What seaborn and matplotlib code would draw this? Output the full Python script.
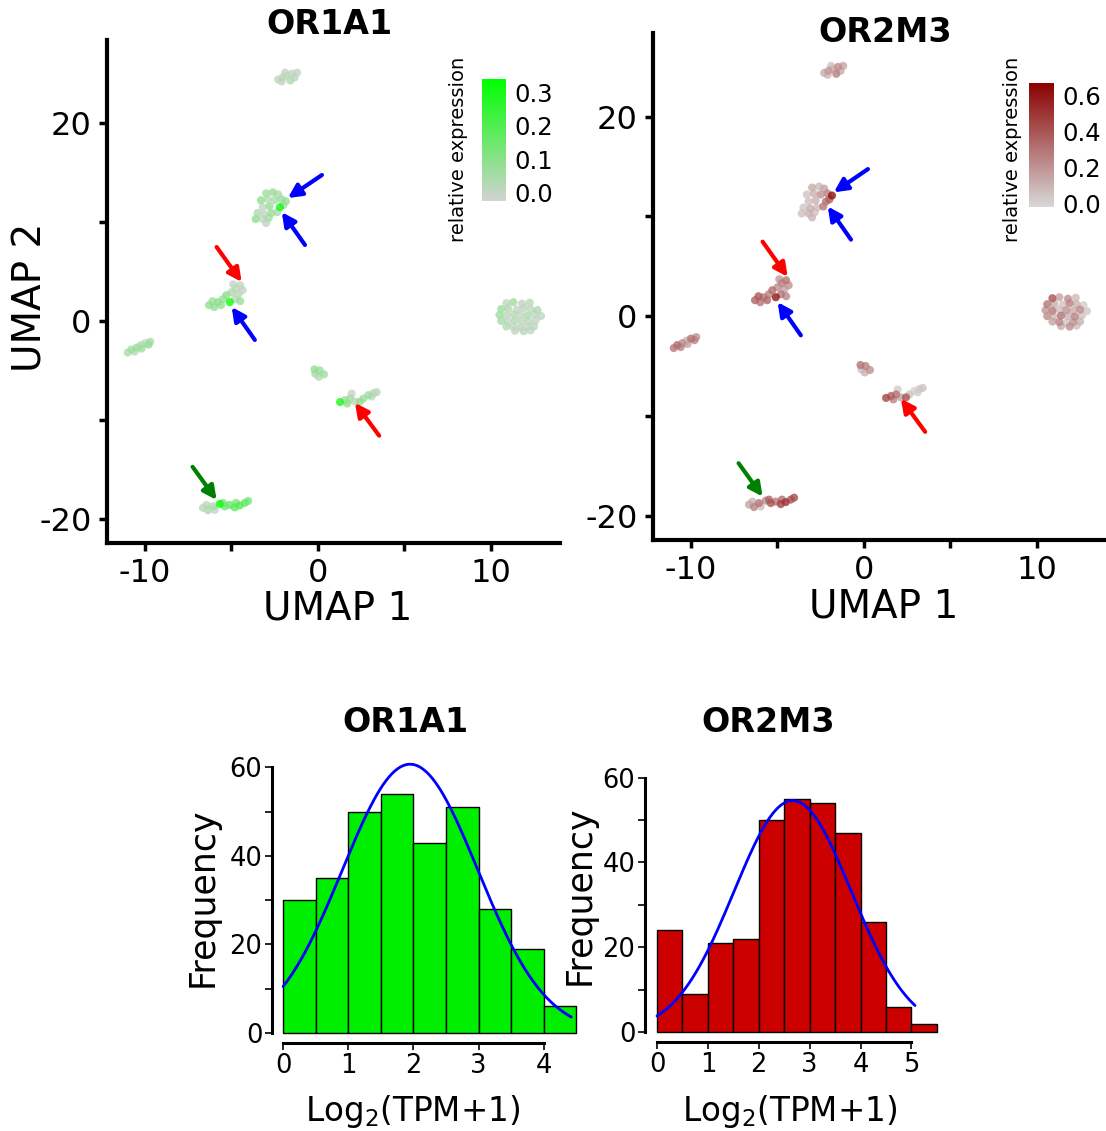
import numpy as np
import pandas as pd
import matplotlib
matplotlib.use("Agg")
import matplotlib.pyplot as plt
import seaborn as sns
from matplotlib.colors import LinearSegmentedColormap, Normalize
from matplotlib.cm import ScalarMappable

# ---------------- data ----------------
# UMAP embedding of the cells (UMAP 1, UMAP 2) and relative expression of the two genes
umap1 = [
    # top cluster
    -2.3, -2.05, -1.8, -1.5, -1.2, -2.1, -1.6, -1.35, -1.9,
    # upper-middle cluster
    -3.0, -2.6, -2.3, -3.3, -2.9, -2.5, -2.1, -1.85, -3.2, -2.8, -2.2, -2.0,
    -3.5, -3.1, -2.7, -2.35, -3.6, -3.2, -2.85, -3.0,
    # middle-left cluster
    -6.3, -6.0, -5.8, -6.1, -5.5, -5.3, -5.0, -4.75, -4.5, -4.35, -4.6, -4.8,
    -5.1, -4.5, -5.6, -4.9,
    # far-left cluster
    -11.0, -10.8, -10.6, -10.5, -10.25, -10.0, -9.8, -9.7, -10.2,
    # small central cluster
    -0.2, 0.1, 0.35, -0.15, 0.05,
    # right-central cluster
    1.28, 1.57, 1.86, 2.14, 1.95, 2.43, 2.63, 2.92, 3.21, 3.4, 3.11, 1.7,
    # bottom cluster
    -6.65, -6.36, -6.45, -6.07, -5.97, -5.68, -5.49, -5.39, -5.10, -4.81,
    -4.74, -4.52, -4.23, -4.04,
    # big right cluster
    10.9, 11.3, 11.8, 12.25,
    10.6, 11.0, 11.5, 11.9, 12.3, 12.7,
    10.5, 10.9, 11.3, 11.7, 12.1, 12.5, 12.9,
    10.6, 11.0, 11.4, 11.8, 12.2, 12.6,
    10.9, 11.3, 11.7, 12.1, 12.5,
    11.4, 11.9, 12.3,
]
umap2 = [
    24.4, 24.6, 24.8, 25.0, 25.1, 24.2, 24.3, 24.6, 25.1,
    12.9, 13.0, 12.8, 12.2, 12.3, 12.2, 12.3, 12.1, 11.5, 11.6, 11.5, 11.7,
    10.9, 10.8, 10.9, 11.0, 10.3, 10.3, 10.4, 9.9,
    1.6, 1.4, 1.9, 2.0, 2.2, 2.6, 2.9, 3.3, 3.6, 3.1, 2.7, 2.2,
    1.9, 2.0, 1.6, 3.7,
    -3.2, -2.9, -3.1, -2.7, -2.45, -2.25, -2.4, -2.1, -2.8,
    -4.9, -5.0, -5.4, -5.35, -5.65,
    -8.2, -8.0, -7.85, -8.15, -7.35, -8.15, -7.85, -7.5, -7.3, -7.2, -7.65, -8.35,
    -18.9, -19.15, -18.6, -18.75, -19.1, -18.5, -18.4, -18.75, -18.6, -18.85,
    -18.4, -18.65, -18.4, -18.2,
    1.8, 1.9, 1.75, 1.85,
    1.2, 1.25, 1.15, 1.3, 1.2, 1.1,
    0.6, 0.55, 0.65, 0.6, 0.55, 0.65, 0.5,
    0.0, -0.05, 0.05, 0.0, -0.05, 0.05,
    -0.55, -0.6, -0.65, -0.6, -0.55,
    -1.0, -1.05, -0.95,
]
expr_or1a1 = [
    0.01, 0.02, 0.0, 0.01, 0.0, 0.0, 0.03, 0.01, 0.0,
    0.06, 0.08, 0.03, 0.09, 0.01, 0.05, 0.07, 0.08, 0.0, 0.08, 0.32, 0.04,
    0.03, 0.0, 0.07, 0.04, 0.09, 0.0, 0.06, 0.01,
    0.09, 0.08, 0.10, 0.06, 0.08, 0.10, 0.04, 0.0, 0.01, 0.0, 0.01, 0.02,
    0.33, 0.07, 0.08, 0.0,
    0.04, 0.06, 0.02, 0.07, 0.03, 0.01, 0.08, 0.04, 0.06,
    0.09, 0.07, 0.06, 0.04, 0.02,
    0.30, 0.07, 0.04, 0.01, 0.0, 0.09, 0.06, 0.07, 0.01, 0.02, 0.0, 0.09,
    0.02, 0.04, 0.01, 0.04, 0.01, 0.33, 0.12, 0.14, 0.16, 0.18,
    0.12, 0.20, 0.16, 0.14,
    0.01, 0.06, 0.0, 0.02,
    0.07, 0.03, 0.0, 0.01, 0.0, 0.04,
    0.06, 0.0, 0.02, 0.0, 0.04, 0.0, 0.01,
    0.05, 0.0, 0.03, 0.0, 0.01, 0.0,
    0.03, 0.0, 0.01, 0.0, 0.02,
    0.0, 0.01, 0.0,
]
expr_or2m3 = [
    0.12, 0.18, 0.10, 0.22, 0.15, 0.08, 0.25, 0.12, 0.05,
    0.12, 0.08, 0.15, 0.05, 0.10, 0.20, 0.25, 0.62, 0.06, 0.10, 0.30, 0.35,
    0.04, 0.12, 0.08, 0.28, 0.06, 0.10, 0.05, 0.09,
    0.35, 0.30, 0.28, 0.38, 0.25, 0.32, 0.22, 0.26, 0.30, 0.20, 0.15, 0.30,
    0.60, 0.24, 0.34, 0.18,
    0.28, 0.32, 0.25, 0.22, 0.10, 0.30, 0.26, 0.20, 0.15,
    0.30, 0.25, 0.20, 0.05, 0.10,
    0.45, 0.35, 0.30, 0.15, 0.02, 0.40, 0.05, 0.0, 0.02, 0.05, 0.01, 0.25,
    0.15, 0.25, 0.10, 0.30, 0.05, 0.22, 0.35, 0.40, 0.28, 0.45,
    0.32, 0.50, 0.38, 0.42,
    0.40, 0.15, 0.22, 0.08,
    0.30, 0.12, 0.05, 0.25, 0.10, 0.02,
    0.18, 0.28, 0.06, 0.20, 0.12, 0.24, 0.03,
    0.22, 0.08, 0.30, 0.10, 0.26, 0.05,
    0.15, 0.25, 0.04, 0.20, 0.10,
    0.12, 0.22, 0.06,
]

# arrows marking cells: (tail UMAP1, tail UMAP2, head UMAP1, head UMAP2, colour)
arrow_marks = [
    (0.23, 14.75, -1.74, 12.42, "#0000ff"),
    (-0.75, 7.68, -2.09, 11.0, "#0000ff"),
    (-5.86, 7.47, -4.41, 3.94, "#ff0000"),
    (-3.65, -1.92, -4.99, 1.41, "#0000ff"),
    (3.54, -11.6, 2.14, -8.28, "#ff0000"),
    (-7.25, -14.75, -5.86, -18.1, "#008000"),
]

# histograms of Log2(TPM+1): bin edges and counts
bins_or1a1 = [0.0, 0.5, 1.0, 1.5, 2.0, 2.5, 3.0, 3.5, 4.0, 4.5]
counts_or1a1 = [30, 35, 50, 54, 43, 51, 28, 19, 6]
bins_or2m3 = [0.0, 0.5, 1.0, 1.5, 2.0, 2.5, 3.0, 3.5, 4.0, 4.5, 5.0, 5.5]
counts_or2m3 = [24, 9, 21, 22, 50, 55, 54, 47, 26, 6, 2]
curve_range_or1a1 = [0.0, 4.42]
curve_range_or2m3 = [0.0, 5.07]

genes = ["OR1A1", "OR2M3"]

# ---------------- style ----------------
sns.set_theme(style="white")
plt.rcParams["font.family"] = ["DejaVu Sans"]
plt.rcParams["axes.unicode_minus"] = False

W, H = 1106, 1131
fig = plt.figure(figsize=(W / 100, H / 100), dpi=100)


def px_axes(l, t, r, b):
    return fig.add_axes([l / W, 1 - b / H, (r - l) / W, (b - t) / H])


def frac(ax, xp, yp):
    bb = ax.get_position()
    return ((xp / W - bb.x0) / bb.width, ((1 - yp / H) - bb.y0) / bb.height)


def xlabel_at(ax, text, xp, yp, size):
    ax.set_xlabel(text, fontsize=size, color="black")
    ax.xaxis.set_label_coords(*frac(ax, xp, yp))
    ax.xaxis.label.set_va("center")


def ylabel_at(ax, text, xp, yp, size):
    ax.set_ylabel(text, fontsize=size, color="black")
    ax.yaxis.set_label_coords(*frac(ax, xp, yp))
    ax.yaxis.label.set_va("center")


def title_at(ax, text, xp, yp, size):
    fx, fy = frac(ax, xp, yp)
    ax.set_title(text, fontsize=size, fontweight="bold", y=fy, va="center",
                 color="black", pad=0)
    ax.title.set_x(fx)


cells = pd.DataFrame({"UMAP1": umap1, "UMAP2": umap2,
                      "OR1A1": expr_or1a1, "OR2M3": expr_or2m3})

cmaps = {
    "OR1A1": LinearSegmentedColormap.from_list("g", ["#d2d2d2", "#00ff00"]),
    "OR2M3": LinearSegmentedColormap.from_list("r", ["#d8d8d8", "#8b0000"]),
}
norms = {"OR1A1": Normalize(-0.027, 0.342), "OR2M3": Normalize(-0.022, 0.667)}
cticks = {"OR1A1": [0.0, 0.1, 0.2, 0.3], "OR2M3": [0.0, 0.2, 0.4, 0.6]}

umap_boxes = {"OR1A1": (107, 40, 560, 543), "OR2M3": (653, 33, 1106, 540)}
cbar_boxes = {"OR1A1": (482, 79, 506, 201), "OR2M3": (1029, 83, 1054, 207)}
cbar_label_x = {"OR1A1": 458, "OR2M3": 1012}
umap_titles = {"OR1A1": (329, 25), "OR2M3": (885, 32)}

for g in genes:
    ax = px_axes(*umap_boxes[g])
    d = cells.sort_values(g)
    sns.scatterplot(data=d, x="UMAP1", y="UMAP2", hue=g, palette=cmaps[g],
                    hue_norm=norms[g], s=34, linewidth=0, alpha=0.8,
                    legend=False, ax=ax)
    for (tx, ty, hx, hy, c) in arrow_marks:
        ax.annotate("", xy=(hx, hy), xytext=(tx, ty),
                    arrowprops=dict(arrowstyle="-|>", color=c, lw=3,
                                    mutation_scale=20, shrinkA=0, shrinkB=0))
    ax.set_xlim(-12.2, 14.0)
    ax.set_ylim(-22.45, 28.4)
    ax.set_xticks([-10, -5, 0, 5, 10])
    ax.set_xticklabels(["-10", "", "0", "", "10"])
    ax.set_yticks([-20, -10, 0, 10, 20])
    ax.set_yticklabels(["-20", "", "0", "", "20"])
    for s in ["top", "right"]:
        ax.spines[s].set_visible(False)
    for s in ["left", "bottom"]:
        ax.spines[s].set_linewidth(3)
        ax.spines[s].set_color("black")
    ax.tick_params(axis="both", which="both", direction="out", length=6, width=2.5,
                   color="black", labelsize=23, labelcolor="black", pad=5,
                   bottom=True, left=True)
    l, t, r, b = umap_boxes[g]
    xlabel_at(ax, "UMAP 1", (l + r) / 2 + 4, b + 66, 28)
    if g == "OR1A1":
        ylabel_at(ax, "UMAP 2", 31, 297, 28)
    else:
        ax.set_ylabel("")
    title_at(ax, g, *umap_titles[g], 24)

    cax = px_axes(*cbar_boxes[g])
    sm = ScalarMappable(norm=norms[g], cmap=cmaps[g])
    cb = fig.colorbar(sm, cax=cax)
    cb.outline.set_visible(False)
    cb.set_ticks(cticks[g])
    cb.set_ticklabels([f"{v:.1f}" for v in cticks[g]])
    cax.tick_params(direction="in", color="white", length=4, width=1,
                    labelsize=17.5, labelcolor="black", pad=6, right=True)
    cax.yaxis.set_label_position("left")
    ylabel_at(cax, "relative expression", cbar_label_x[g], 149, 14)

# ---------------- histograms ----------------
hist_specs = {
    "OR1A1": dict(box=(272, 754, 583, 1043), xlim=(-0.17, 4.6), ylim=(-2.3, 63),
                  bins=bins_or1a1, counts=counts_or1a1, color="#00ee00",
                  xticks=[0, 1, 2, 3, 4], crange=curve_range_or1a1,
                  title=(405, 722), ylab=(203, 897), xlab=(413, 1111)),
    "OR2M3": dict(box=(645, 765, 942, 1042), xlim=(-0.236, 5.6), ylim=(-2.36, 63),
                  bins=bins_or2m3, counts=counts_or2m3, color="#cd0000",
                  xticks=[0, 1, 2, 3, 4, 5], crange=curve_range_or2m3,
                  title=(768, 722), ylab=(580, 895), xlab=(790, 1111)),
}

for g in genes:
    sp = hist_specs[g]
    ax = px_axes(*sp["box"])
    edges = np.array(sp["bins"], dtype=float)
    mids = (edges[:-1] + edges[1:]) / 2
    cnt = np.array(sp["counts"], dtype=float)
    hd = pd.DataFrame({"value": mids, "count": cnt})
    sns.histplot(data=hd, x="value", weights="count", bins=list(edges),
                 color=sp["color"], alpha=1, edgecolor="black", linewidth=1, ax=ax)
    # fitted normal curve from the histogram
    n = cnt.sum()
    bw = edges[1] - edges[0]
    mu = np.sum(mids * cnt) / n
    sd = np.sqrt(np.sum(cnt * (mids - mu) ** 2) / n)
    xs = np.linspace(sp["crange"][0], sp["crange"][1], 200)
    ys = n * bw * np.exp(-0.5 * ((xs - mu) / sd) ** 2) / (sd * np.sqrt(2 * np.pi))
    ax.plot(xs, ys, color="#0000ff", lw=2)
    ax.set_xlim(*sp["xlim"])
    ax.set_ylim(*sp["ylim"])
    ax.set_xticks(sp["xticks"])
    ax.set_xticklabels([str(v) for v in sp["xticks"]])
    ax.set_yticks([0, 10, 20, 30, 40, 50, 60])
    ax.set_yticklabels(["0", "", "20", "", "40", "", "60"])
    for s in ["top", "right"]:
        ax.spines[s].set_visible(False)
    for s in ["left", "bottom"]:
        ax.spines[s].set_linewidth(2.2)
        ax.spines[s].set_color("black")
    ax.spines["left"].set_bounds(0, 60)
    ax.spines["bottom"].set_bounds(sp["xticks"][0], sp["xticks"][-1])
    ax.tick_params(axis="both", direction="out", length=5, width=1.2, color="black",
                   labelsize=18.5, labelcolor="black", pad=2, bottom=True, left=True)
    xlabel_at(ax, r"Log$_2$(TPM+1)", *sp["xlab"], 23.5)
    ylabel_at(ax, "Frequency", *sp["ylab"], 25)
    title_at(ax, g, *sp["title"], 24)

fig.savefig("out.png", dpi=100)
